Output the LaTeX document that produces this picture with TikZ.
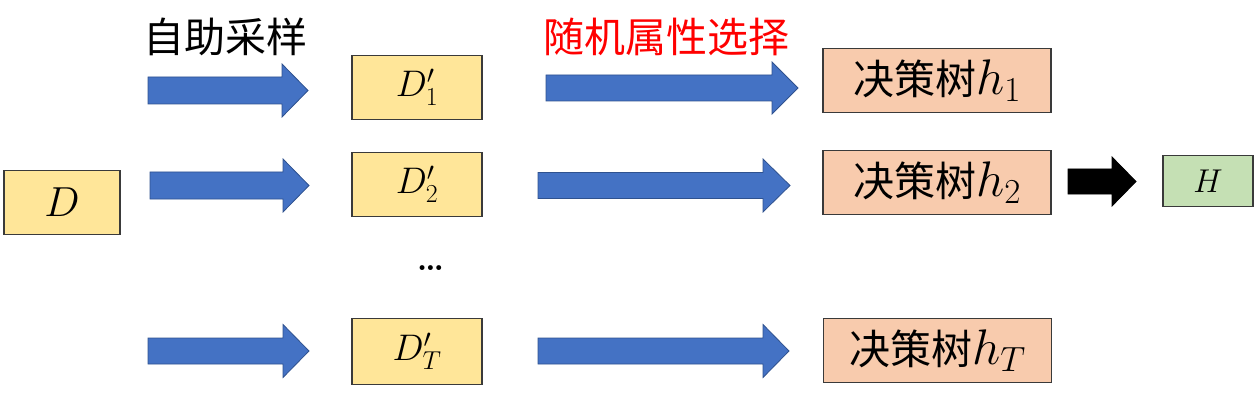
\RequirePackage{fix-cm}
\documentclass[tikz,border=0pt]{standalone}
\usepackage{fontspec}
\newfontfamily\cjk{Noto Sans CJK SC}
\definecolor{boxyellow}{HTML}{FFE699}
\definecolor{boxsalmon}{HTML}{F8CBAD}
\definecolor{boxgreen}{HTML}{C5E0B4}
\definecolor{arrowblue}{HTML}{4472C4}
\definecolor{arrowedge}{HTML}{2F528F}
\definecolor{boxedge}{HTML}{3A3A3A}
% block arrow: #1 name, #2 x start, #3 head base x, #4 tip x, #5 y centre, #6 shaft half, #7 head half
\newcommand\blockarrowshape[7]{%
  \coordinate (#1) at (#2,#5);
  \draw[#1style] (#2,#5-#6) -- (#3,#5-#6) -- (#3,#5-#7) -- (#4,#5) -- (#3,#5+#7) -- (#3,#5+#6) -- (#2,#5+#6) -- cycle;}
\tikzset{
  databox/.style={draw=boxedge, line width=1.2pt, fill=boxyellow, minimum width=130pt, minimum height=64pt, inner sep=0pt, font=\fontsize{37}{40}\selectfont},
  treebox/.style={draw=boxedge, line width=1.2pt, fill=boxsalmon, minimum width=228pt, minimum height=64pt, inner sep=0pt},
  bluestyle/.style={fill=arrowblue, draw=arrowedge, line width=0.8pt},
  blackstyle/.style={fill=black, draw=black, line width=0.8pt},
  labeltext/.style={font=\cjk\fontsize{41}{48}\selectfont, inner sep=0pt}
}
\newcommand\treelabel[1]{{\cjk\fontsize{41}{48}\selectfont 决策树}{\fontsize{50}{56}\selectfont$h_{#1}$}}
\begin{document}
\begin{tikzpicture}[x=1pt,y=-1pt]
\useasboundingbox (0,0) rectangle (1257,406);
% labels
\node[labeltext] (lbl1) at (225.5,37) {自助采样};
\node[labeltext, text=red] (lbl2) at (666,37) {随机属性选择};
% source
\node[databox, minimum width=116pt, font=\fontsize{42}{46}\selectfont] (D) at (62,202.5) {$D$};
% bootstrap samples
\node[databox] (D1) at (417,87.5) {$D'_1$\hspace{16pt}};
\node[databox] (D2) at (417,184.5) {$D'_2$\hspace{16pt}};
\node[databox, minimum height=66pt] (DT) at (417,351.5) {$D'_T$\hspace{14pt}};
\node[inner sep=0pt, font=\fontsize{34}{40}\selectfont] (dots) at (430.5,268) {\textbf{\ldots}};
% trees
\node[treebox] (h1) at (937,80.5) {\treelabel{1}};
\node[treebox] (h2) at (937,182.5) {\treelabel{2}};
\node[treebox] (hT) at (937.5,350.5) {\treelabel{T}};
% result
\node[draw=boxedge, line width=1.2pt, fill=boxgreen, minimum width=90pt, minimum height=51pt, inner sep=0pt, font=\fontsize{33}{36}\selectfont] (H) at (1208,181) {$H$};
% arrows
\tikzset{a1style/.style=bluestyle, a2style/.style=bluestyle, a3style/.style=bluestyle,
  b1style/.style=bluestyle, b2style/.style=bluestyle, b3style/.style=bluestyle, cstyle/.style=blackstyle}
\blockarrowshape{a1}{148}{282}{308}{90.5}{13.5}{26.5}
\blockarrowshape{a2}{150}{283}{309}{185.5}{13.5}{26.5}
\blockarrowshape{a3}{148}{283}{309}{351}{13}{26.5}
\blockarrowshape{b1}{546}{772}{798}{88}{13}{26}
\blockarrowshape{b2}{538}{763}{790}{185.5}{13}{26.5}
\blockarrowshape{b3}{538}{763}{789}{351}{13}{26.5}
\blockarrowshape{c}{1068}{1112}{1136}{181.5}{12.5}{24.5}
\end{tikzpicture}
\end{document}
